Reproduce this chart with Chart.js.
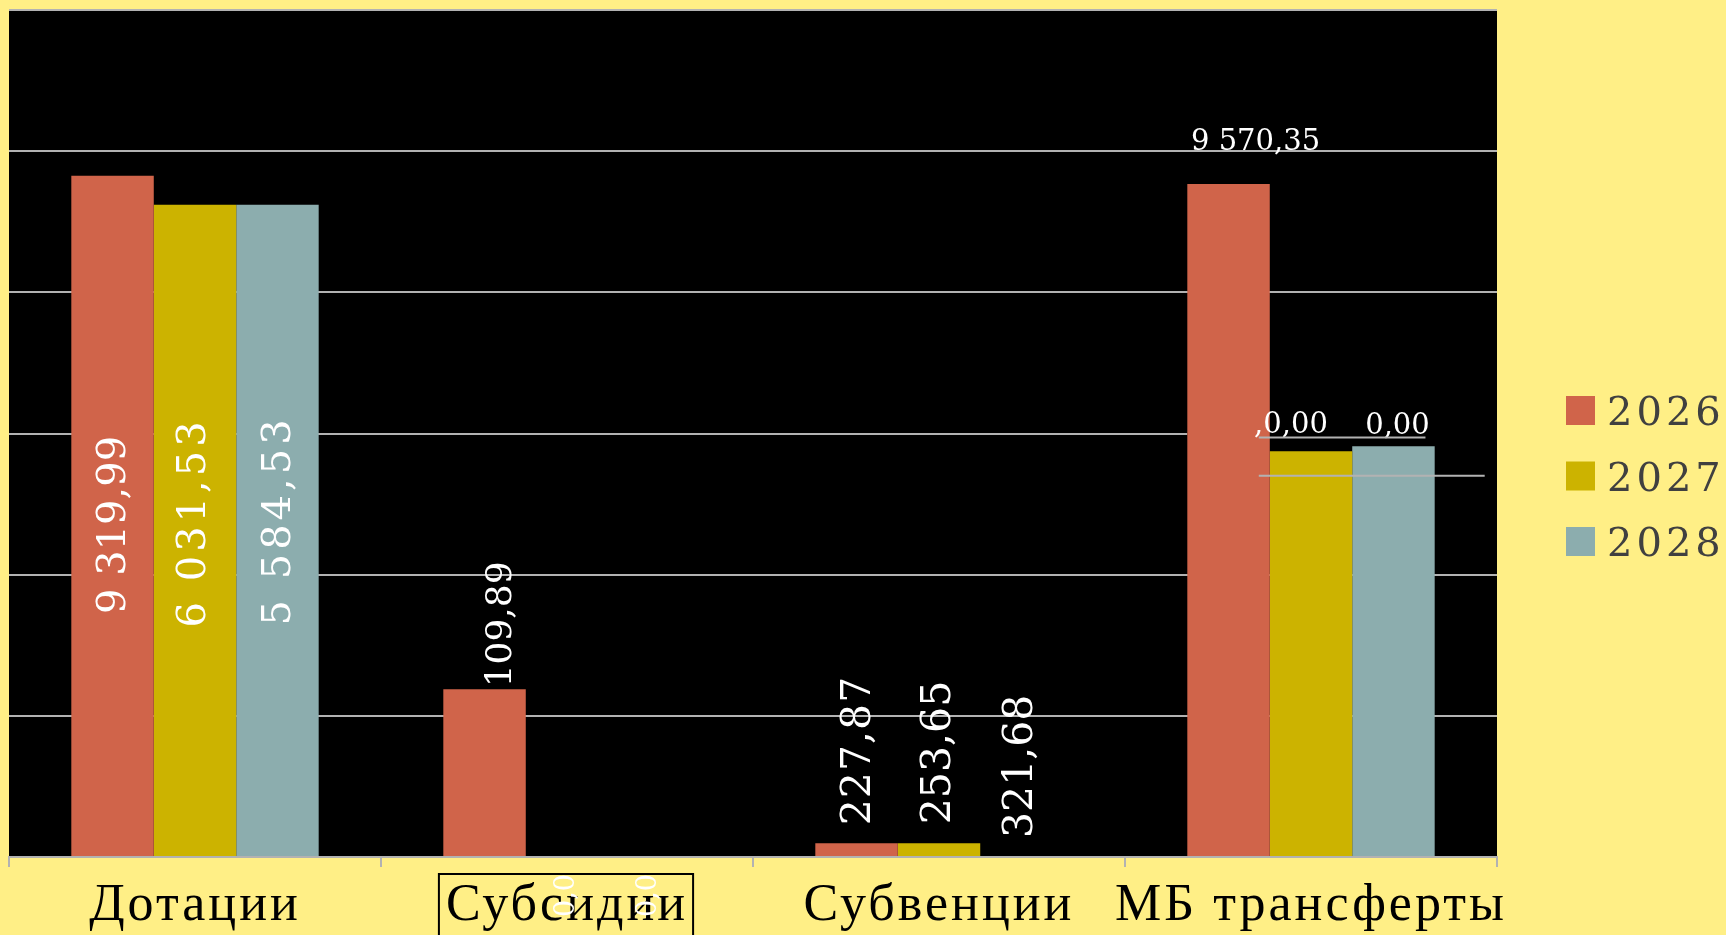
<!DOCTYPE html>
<html>
<head>
<meta charset="utf-8">
<script src="https://cdn.jsdelivr.net/npm/chart.js@4.4.1/dist/chart.umd.min.js"></script>
<style>
  html, body { margin: 0; padding: 0; background: #FFEF86; }
  #wrap { position: relative; width: 1726px; height: 935px; }
</style>
</head>
<body>
<div id="wrap"><canvas id="chart" width="1726" height="935"></canvas></div>
<script>
const categories = ["Дотации", "Субсидии", "Субвенции", "МБ трансферты"];
const years = ["2026", "2027", "2028"];

// bar heights as they are drawn in the picture
const values2026 = [9650, 2375, 195, 9535];
const values2027 = [9240, 0, 195, 5750];
const values2028 = [9240, 0, 0, 5820];

// data labels as printed on the picture
const labels2026 = ["9 319,99", "109,89", "227,87", "9 570,35"];
const labels2027 = ["6 031,53", "0,0", "253,65", ",0,00"];
const labels2028 = ["5 584,53", "0,0", "321,68", "0,00"];

const yTicks = [0, 2000, 4000, 6000, 8000, 10000, 12000];
const colors = ["#D0644A", "#CCB300", "#8CADAE"];

const valueSets = [values2026, values2027, values2028];
const labelSets = [labels2026, labels2027, labels2028];

// how the labels sit in each category
const place = [
  { rot: true, at: "middle", size: 40 },
  { rot: true, at: "top", size: 36 },
  { rot: true, at: "top", size: 41 },
  { rot: false, at: "top", size: 29 },
];
// [dx, dy, letterSpacing] per series and category
const nudge = [
  [[2, 9, 0], [17, -2, 0], [3, -18, 1], [27, -34, 0]],
  [[0, -8, 4], [0, 60, 0], [0, -19, 0], [-20, -18, 0]],
  [[2, -10, 4], [0, 60, 0], [0, -19, 0], [4, -12, 0]],
];

const GRID = "#B2B2B2";
const serif = "'DejaVu Serif', serif";

const backdrop = {
  id: "backdrop",
  beforeDraw(chart) {
    const { ctx, chartArea: a } = chart;
    ctx.save();
    ctx.fillStyle = "#FFEF86";
    ctx.fillRect(0, 0, chart.width, chart.height);
    ctx.fillStyle = "#000";
    ctx.fillRect(a.left, a.top, a.right - a.left, a.bottom - a.top);
    ctx.restore();
    ctx.letterSpacing = "3px"; // for the category labels
  },
  beforeDatasetsDraw(chart) {
    const { ctx, chartArea: a } = chart;
    ctx.letterSpacing = "0px";
    // the 6000 grid line is hidden over the last group
    const el = chart.getDatasetMeta(0).data[3];
    const x0 = el.x - el.width / 2;
    const y = chart.scales.y.getPixelForValue(6000);
    ctx.save();
    ctx.fillStyle = "#000";
    ctx.fillRect(x0, y - 2, a.right - x0, 4);
    ctx.restore();
  },
};

const dataLabels = {
  id: "dataLabels",
  afterDatasetsDraw(chart) {
    const { ctx } = chart;
    ctx.save();
    ctx.fillStyle = "#fff";
    labelSets.forEach((texts, i) => {
      const meta = chart.getDatasetMeta(i);
      texts.forEach((t, j) => {
        const el = meta.data[j];
        const p = place[j];
        const [dx, dy, ls] = nudge[i][j];
        let size = p.size;
        if (j === 1 && valueSets[i][j] === 0) size = 27;
        ctx.font = size + "px " + serif;
        ctx.letterSpacing = ls + "px";
        if (p.rot) {
          const y = p.at === "middle" ? (el.y + el.base) / 2 + dy : el.y + dy;
          ctx.save();
          ctx.translate(el.x + dx, y);
          ctx.rotate(-Math.PI / 2);
          ctx.textAlign = p.at === "middle" ? "center" : "left";
          ctx.textBaseline = "middle";
          ctx.fillText(t, 0, 0);
          ctx.restore();
        } else {
          ctx.textAlign = "center";
          ctx.textBaseline = "alphabetic";
          ctx.fillText(t, el.x + dx, el.y + dy);
        }
      });
    });
    ctx.letterSpacing = "0px";

    // stray lines by the last group
    const b1 = chart.getDatasetMeta(1).data[3];
    const b2 = chart.getDatasetMeta(2).data[3];
    const y = chart.scales.y;
    const xs = b1.x - b1.width / 2 - 11;
    ctx.strokeStyle = GRID;
    ctx.lineWidth = 2;
    ctx.beginPath();
    ctx.moveTo(xs, y.getPixelForValue(6000) + 4);
    ctx.lineTo(b2.x + 32, y.getPixelForValue(6000) + 4);
    ctx.moveTo(xs, y.getPixelForValue(5400));
    ctx.lineTo(b2.x + b2.width / 2 + 50, y.getPixelForValue(5400));
    ctx.stroke();
    ctx.restore();
  },
};

const extras = {
  id: "extras",
  afterDraw(chart) {
    const { ctx, chartArea: a } = chart;
    const x = chart.scales.x;
    ctx.save();
    // frame round the second category label
    ctx.font = "52px 'Liberation Serif', serif";
    ctx.letterSpacing = "3px";
    const w = ctx.measureText(categories[1]).width;
    const cx = x.getPixelForValue(1) - 1;
    ctx.letterSpacing = "0px";
    ctx.strokeStyle = "#000";
    ctx.lineWidth = 2;
    ctx.strokeRect(cx - w / 2 - 6, x.top + 17, w + 12, chart.height);

    // legend
    const lx = a.right + 69;
    const top = a.top + 386;
    ctx.font = "40px " + serif;
    ctx.letterSpacing = "4px";
    ctx.textBaseline = "alphabetic";
    ctx.textAlign = "left";
    years.forEach((yr, i) => {
      const ry = top + i * 65.5;
      ctx.fillStyle = colors[i];
      ctx.fillRect(lx, ry, 29, 29);
      ctx.fillStyle = "#404040";
      ctx.fillText(yr, lx + 41, ry + 29);
    });
    ctx.restore();
  },
};

new Chart(document.getElementById("chart"), {
  type: "bar",
  data: {
    labels: categories,
    datasets: years.map((yr, i) => ({
      label: yr,
      data: valueSets[i],
      backgroundColor: colors[i],
      borderWidth: 0,
      barPercentage: 1,
      categoryPercentage: 0.665,
    })),
  },
  options: {
    responsive: false,
    animation: false,
    devicePixelRatio: 1,
    layout: { padding: { left: 9, right: 229, top: 10, bottom: 0 } },
    plugins: { legend: { display: false }, tooltip: { enabled: false } },
    scales: {
      x: {
        afterFit: (s) => { s.height = 78; },
        border: { display: true, color: GRID, width: 2 },
        grid: { offset: true, drawOnChartArea: false, drawTicks: true, tickLength: 10, color: GRID, lineWidth: 2 },
        ticks: {
          color: "#000",
          font: { family: "'Liberation Serif', serif", size: 52 },
          padding: 8,
          maxRotation: 0,
          autoSkip: false,
        },
      },
      y: {
        min: 0,
        max: 12000,
        afterFit: (s) => { s.width = 0; },
        afterBuildTicks: (s) => { s.ticks = yTicks.map((v) => ({ value: v })); },
        border: { display: false },
        grid: { color: GRID, lineWidth: 2, drawTicks: false },
        ticks: { display: false },
      },
    },
  },
  plugins: [backdrop, dataLabels, extras],
});
</script>
</body>
</html>
